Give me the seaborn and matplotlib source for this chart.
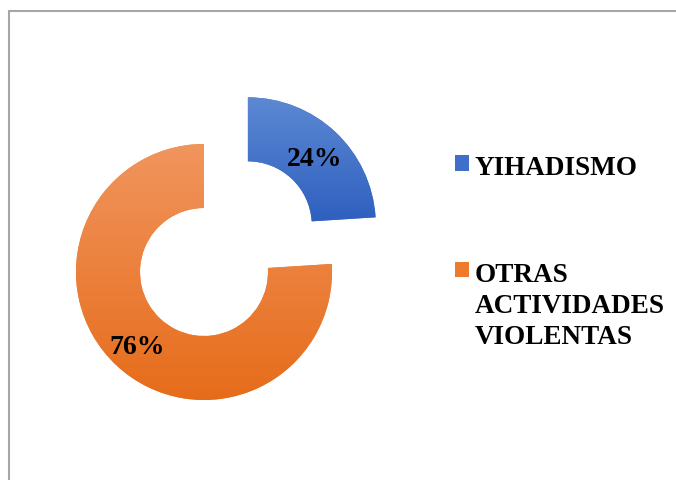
"""
Donut chart: YIHADISMO vs OTRAS ACTIVIDADES VIOLENTAS.
"""

import numpy as np
import matplotlib
matplotlib.use("Agg")
import matplotlib.pyplot as plt
import matplotlib.colors as mcolors
from matplotlib.patches import Patch
from matplotlib.lines import Line2D
import seaborn as sns

sns.set_style("white")
plt.rcParams['font.family'] = ['Liberation Serif', 'DejaVu Serif']

# Data
categories = ['YIHADISMO', 'OTRAS\nACTIVIDADES\nVIOLENTAS']
values = [24, 76]
explode = [0.5, 0.0]
# gradient (top colour, bottom colour) for each slice
gradients = [('#5c88d3', '#2e5fbf'), ('#f1955e', '#e66c1a')]
base_colors = ['#4472c4', '#ed7d31']

W, H, DPI = 676, 481, 100
R_PX = 128            # outer radius in pixels
CX, CY = 204, 273     # donut centre in pixels (from top-left)

fig = plt.figure(figsize=(W / DPI, H / DPI), dpi=DPI)
ax = fig.add_axes([0, 0, 1, 1])

wedges, texts, autotexts = ax.pie(
    values, explode=explode, startangle=90, counterclock=False,
    colors=base_colors, autopct='%1.0f%%', pctdistance=0.76,
    wedgeprops=dict(width=0.5, linewidth=0),
    textprops=dict(fontsize=20, fontweight='bold', color='black'))

# vertical gradient inside each wedge
for wedge, (top, bottom) in zip(wedges, gradients):
    cmap = mcolors.LinearSegmentedColormap.from_list('g', [bottom, top])
    verts = wedge.get_path().vertices
    x0, x1 = verts[:, 0].min(), verts[:, 0].max()
    y0, y1 = verts[:, 1].min(), verts[:, 1].max()
    grad = np.linspace(0, 1, 256).reshape(-1, 1)
    im = ax.imshow(grad, cmap=cmap, origin='lower', aspect='auto',
                   extent=(x0, x1, y0, y1), zorder=wedge.get_zorder() + 0.1)
    im.set_clip_path(wedge)
for t in autotexts:
    t.set_zorder(5)
    x, y = t.get_position()
    t.set_position((x, y - 0.03))

ax.set_xlim(-CX / R_PX, (W - CX) / R_PX)
ax.set_ylim(-(H - CY) / R_PX, CY / R_PX)
ax.set_aspect('auto')
ax.axis('off')

handles = [Patch(facecolor=c, edgecolor='none') for c in ['#3f6fc9', '#ee7a2c']]
leg = fig.legend(handles, categories, loc='upper left',
                 bbox_to_anchor=(431 / W, 1 - 132 / H), frameon=False,
                 prop=dict(size=19.5, weight='bold'),
                 handlelength=0.52, handleheight=0.52, handletextpad=0.2,
                 labelspacing=3.0)
for txt in leg.get_texts():
    txt.set_color('black')
    txt.set_linespacing(1.33)
# put the marker next to the first line of a multi-line label
for column in leg._legend_handle_box.get_children():
    for row in column.get_children():
        row.align = 'top'

# outer frame (only left and top edges visible)
frame_kw = dict(color='#a6a6a6', linewidth=1.5, transform=fig.transFigure)
fig.add_artist(Line2D([8.5 / W, 8.5 / W], [0, 1 - 12 / H], **frame_kw))
fig.add_artist(Line2D([8.5 / W, 1], [1 - 12 / H, 1 - 12 / H], **frame_kw))

fig.savefig('out.png', dpi=DPI)
